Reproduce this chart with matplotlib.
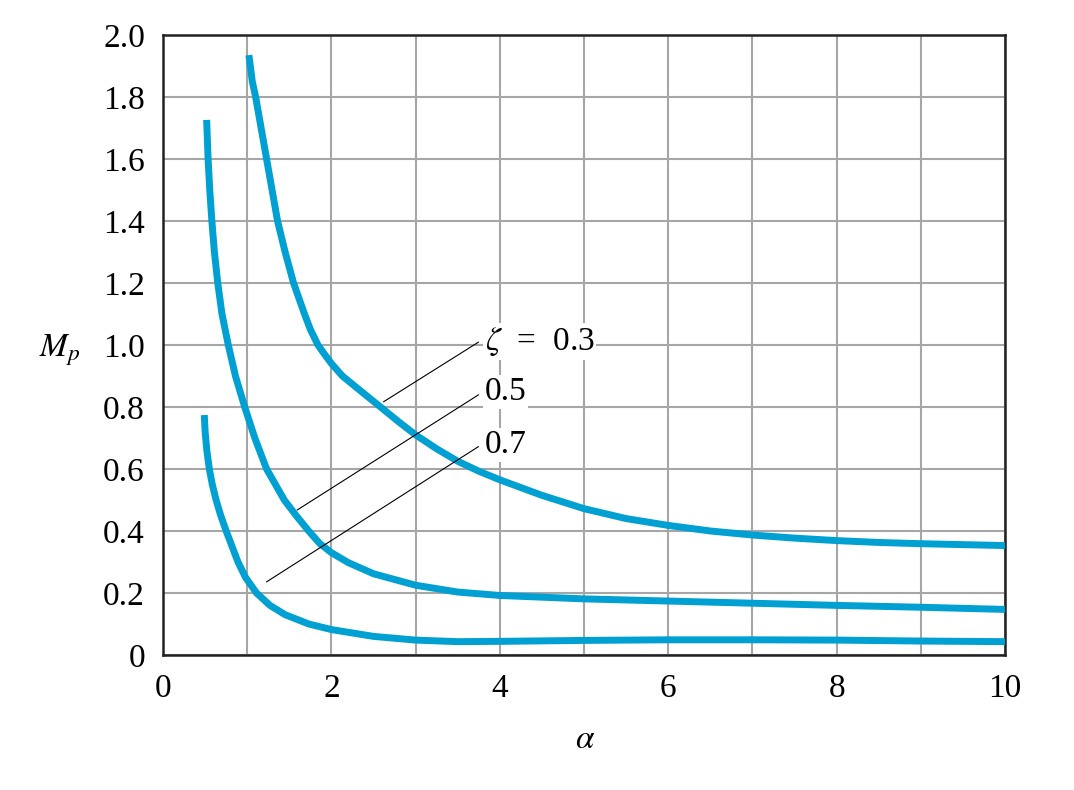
import matplotlib
matplotlib.use("Agg")
import matplotlib.pyplot as plt

plt.rcParams['font.family'] = ['Liberation Serif', 'DejaVu Serif']
plt.rcParams['mathtext.fontset'] = 'stix'

# curves: alpha vs Mp for each zeta
alpha_03 = [1.02, 1.06, 1.10, 1.165, 1.23, 1.295, 1.36, 1.45, 1.55, 1.68, 1.75, 1.84,
            1.91, 2.0, 2.13, 2.31, 2.56, 2.8, 3.0, 3.25, 3.5, 3.75, 4.0, 4.5, 5.0, 5.5,
            6.0, 6.5, 7.0, 7.5, 8.0, 8.5, 9.0, 9.5, 10.0]
mp_03 = [1.935, 1.85, 1.80, 1.70, 1.60, 1.50, 1.40, 1.30, 1.20, 1.10, 1.05, 1.00,
         0.973, 0.94, 0.90, 0.86, 0.805, 0.752, 0.71, 0.665, 0.625, 0.593, 0.565,
         0.515, 0.472, 0.44, 0.418, 0.40, 0.387, 0.377, 0.369, 0.363, 0.359, 0.356,
         0.353]

alpha_05 = [0.518, 0.535, 0.555, 0.58, 0.61, 0.65, 0.70, 0.775, 0.86, 0.97, 1.09,
            1.23, 1.44, 1.58, 1.73, 1.86, 2.0, 2.2, 2.5, 3.0, 3.5, 4.0, 5.0, 6.0, 7.0,
            8.0, 9.0, 10.0]
mp_05 = [1.726, 1.60, 1.50, 1.40, 1.30, 1.20, 1.10, 1.00, 0.90, 0.80, 0.70, 0.60,
         0.50, 0.45, 0.40, 0.36, 0.33, 0.298, 0.262, 0.225, 0.203, 0.192, 0.181,
         0.174, 0.167, 0.160, 0.154, 0.147]

alpha_07 = [0.49, 0.50, 0.52, 0.55, 0.585, 0.63, 0.685, 0.75, 0.82, 0.89, 0.98, 1.11,
            1.27, 1.45, 1.73, 2.0, 2.5, 3.0, 3.5, 4.0, 5.0, 6.0, 7.0, 8.0, 9.0, 10.0]
mp_07 = [0.774, 0.72, 0.66, 0.60, 0.55, 0.50, 0.45, 0.40, 0.35, 0.30, 0.25, 0.20,
         0.16, 0.13, 0.10, 0.082, 0.06, 0.048, 0.043, 0.044, 0.047, 0.049, 0.049,
         0.048, 0.045, 0.043]

labels = [r'$\zeta$  =  0.3', '0.5', '0.7']
label_xy = [(3.82, 1.011), (3.82, 0.849), (3.82, 0.677)]
leader_start = [(2.62, 0.817), (1.595, 0.468), (1.23, 0.236)]
leader_end = [(3.745, 1.009), (3.745, 0.839), (3.745, 0.672)]

xticks = list(range(0, 11))
xticklabels = [str(v) if v % 2 == 0 else '' for v in xticks]
yticks = [0, 0.2, 0.4, 0.6, 0.8, 1.0, 1.2, 1.4, 1.6, 1.8, 2.0]
yticklabels = ['0', '0.2', '0.4', '0.6', '0.8', '1.0', '1.2', '1.4', '1.6', '1.8', '2.0']

fig = plt.figure(figsize=(10.74, 7.9), dpi=100)
ax = fig.add_axes([0.1518, 0.1709, 0.784, 0.7848])

blue = '#00a0d3'
for a, m in [(alpha_03, mp_03), (alpha_05, mp_05), (alpha_07, mp_07)]:
    ax.plot(a, m, color=blue, lw=5, solid_capstyle='butt', solid_joinstyle='round', zorder=3)

# leader lines and labels
for (x0, y0), (x1, y1) in zip(leader_start, leader_end):
    ax.plot([x0, x1], [y0, y1], color='black', lw=0.8, zorder=4)
for txt, (x, y) in zip(labels, label_xy):
    ax.text(x, y, txt, fontsize=24, ha='left', va='center', zorder=5,
            bbox=dict(facecolor='white', edgecolor='none', pad=1.5))

ax.set_xlim(0, 10)
ax.set_ylim(0, 2.0)
ax.set_xticks(xticks)
ax.set_xticklabels(xticklabels)
ax.set_yticks(yticks)
ax.set_yticklabels(yticklabels)
ax.tick_params(length=0, labelsize=24, pad=13)
ax.grid(True, color='#a6a6a6', lw=1.5)
ax.set_axisbelow(True)
for s in ax.spines.values():
    s.set_linewidth(1.8)
    s.set_color('#222222')

fig.text(0.056, 0.557, r'$M_p$', fontsize=24, ha='center', va='center')
fig.text(0.545, 0.063, r'$\alpha$', fontsize=24, ha='center', va='center')

fig.savefig('out.png', dpi=100)
